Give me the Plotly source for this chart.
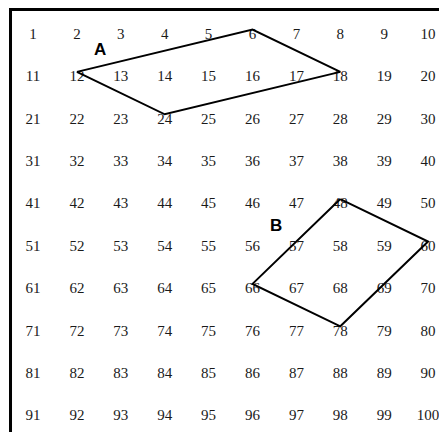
import plotly.graph_objects as go

# ---- data ----
grid_rows = [
    [1, 2, 3, 4, 5, 6, 7, 8, 9, 10],
    [11, 12, 13, 14, 15, 16, 17, 18, 19, 20],
    [21, 22, 23, 24, 25, 26, 27, 28, 29, 30],
    [31, 32, 33, 34, 35, 36, 37, 38, 39, 40],
    [41, 42, 43, 44, 45, 46, 47, 48, 49, 50],
    [51, 52, 53, 54, 55, 56, 57, 58, 59, 60],
    [61, 62, 63, 64, 65, 66, 67, 68, 69, 70],
    [71, 72, 73, 74, 75, 76, 77, 78, 79, 80],
    [81, 82, 83, 84, 85, 86, 87, 88, 89, 90],
    [91, 92, 93, 94, 95, 96, 97, 98, 99, 100],
]
polygon_A = [12, 6, 18, 24]
polygon_B = [48, 60, 78, 66]
region_labels = ["A", "B"]
region_label_col = [2.53, 6.54]
region_label_row = [1.35, 5.50]

# ---- helpers ----
def cell_pos(n):
    for r, row in enumerate(grid_rows):
        if n in row:
            return row.index(n) + 1, r + 1
    raise ValueError(n)

xs, ys, txt = [], [], []
for r, row in enumerate(grid_rows):
    for c, v in enumerate(row):
        xs.append(c + 1)
        ys.append(r + 1)
        txt.append(str(v))

fig = go.Figure()
fig.add_trace(go.Scatter(
    x=xs, y=ys, text=txt, mode="text",
    textfont=dict(family="Liberation Serif", size=15, color="#1a1a1a"),
    textposition="middle center", hoverinfo="skip", showlegend=False,
    cliponaxis=False))

VERT_DY = -0.13
for poly in (polygon_A, polygon_B):
    px, py = [], []
    for n in poly + poly[:1]:
        c, r = cell_pos(n)
        px.append(c)
        py.append(r + VERT_DY)
    fig.add_trace(go.Scatter(x=px, y=py, mode="lines",
                             line=dict(color="black", width=2),
                             hoverinfo="skip", showlegend=False))

for lab, c, r in zip(region_labels, region_label_col, region_label_row):
    fig.add_annotation(x=c, y=r, text=f"<b>{lab}</b>", showarrow=False,
                       font=dict(family="Liberation Sans", size=17, color="black"))

# frame (right/bottom edges fall outside the visible area)
fig.add_shape(type="rect", x0=0.4875, y0=0.399, x1=11, y1=11,
              line=dict(color="black", width=3), layer="above")

fig.update_layout(
    width=439, height=432,
    margin=dict(l=0, r=0, t=0, b=0),
    paper_bgcolor="white", plot_bgcolor="white",
    xaxis=dict(range=[0.248, 10.248], visible=False, fixedrange=True),
    yaxis=dict(range=[10.363, 0.1745], visible=False, fixedrange=True),
)

fig.write_html(
    "out.html",
    config={"displayModeBar": False, "staticPlot": True},
    post_script="document.body.style.margin='0';document.body.style.overflow='hidden';",
)
